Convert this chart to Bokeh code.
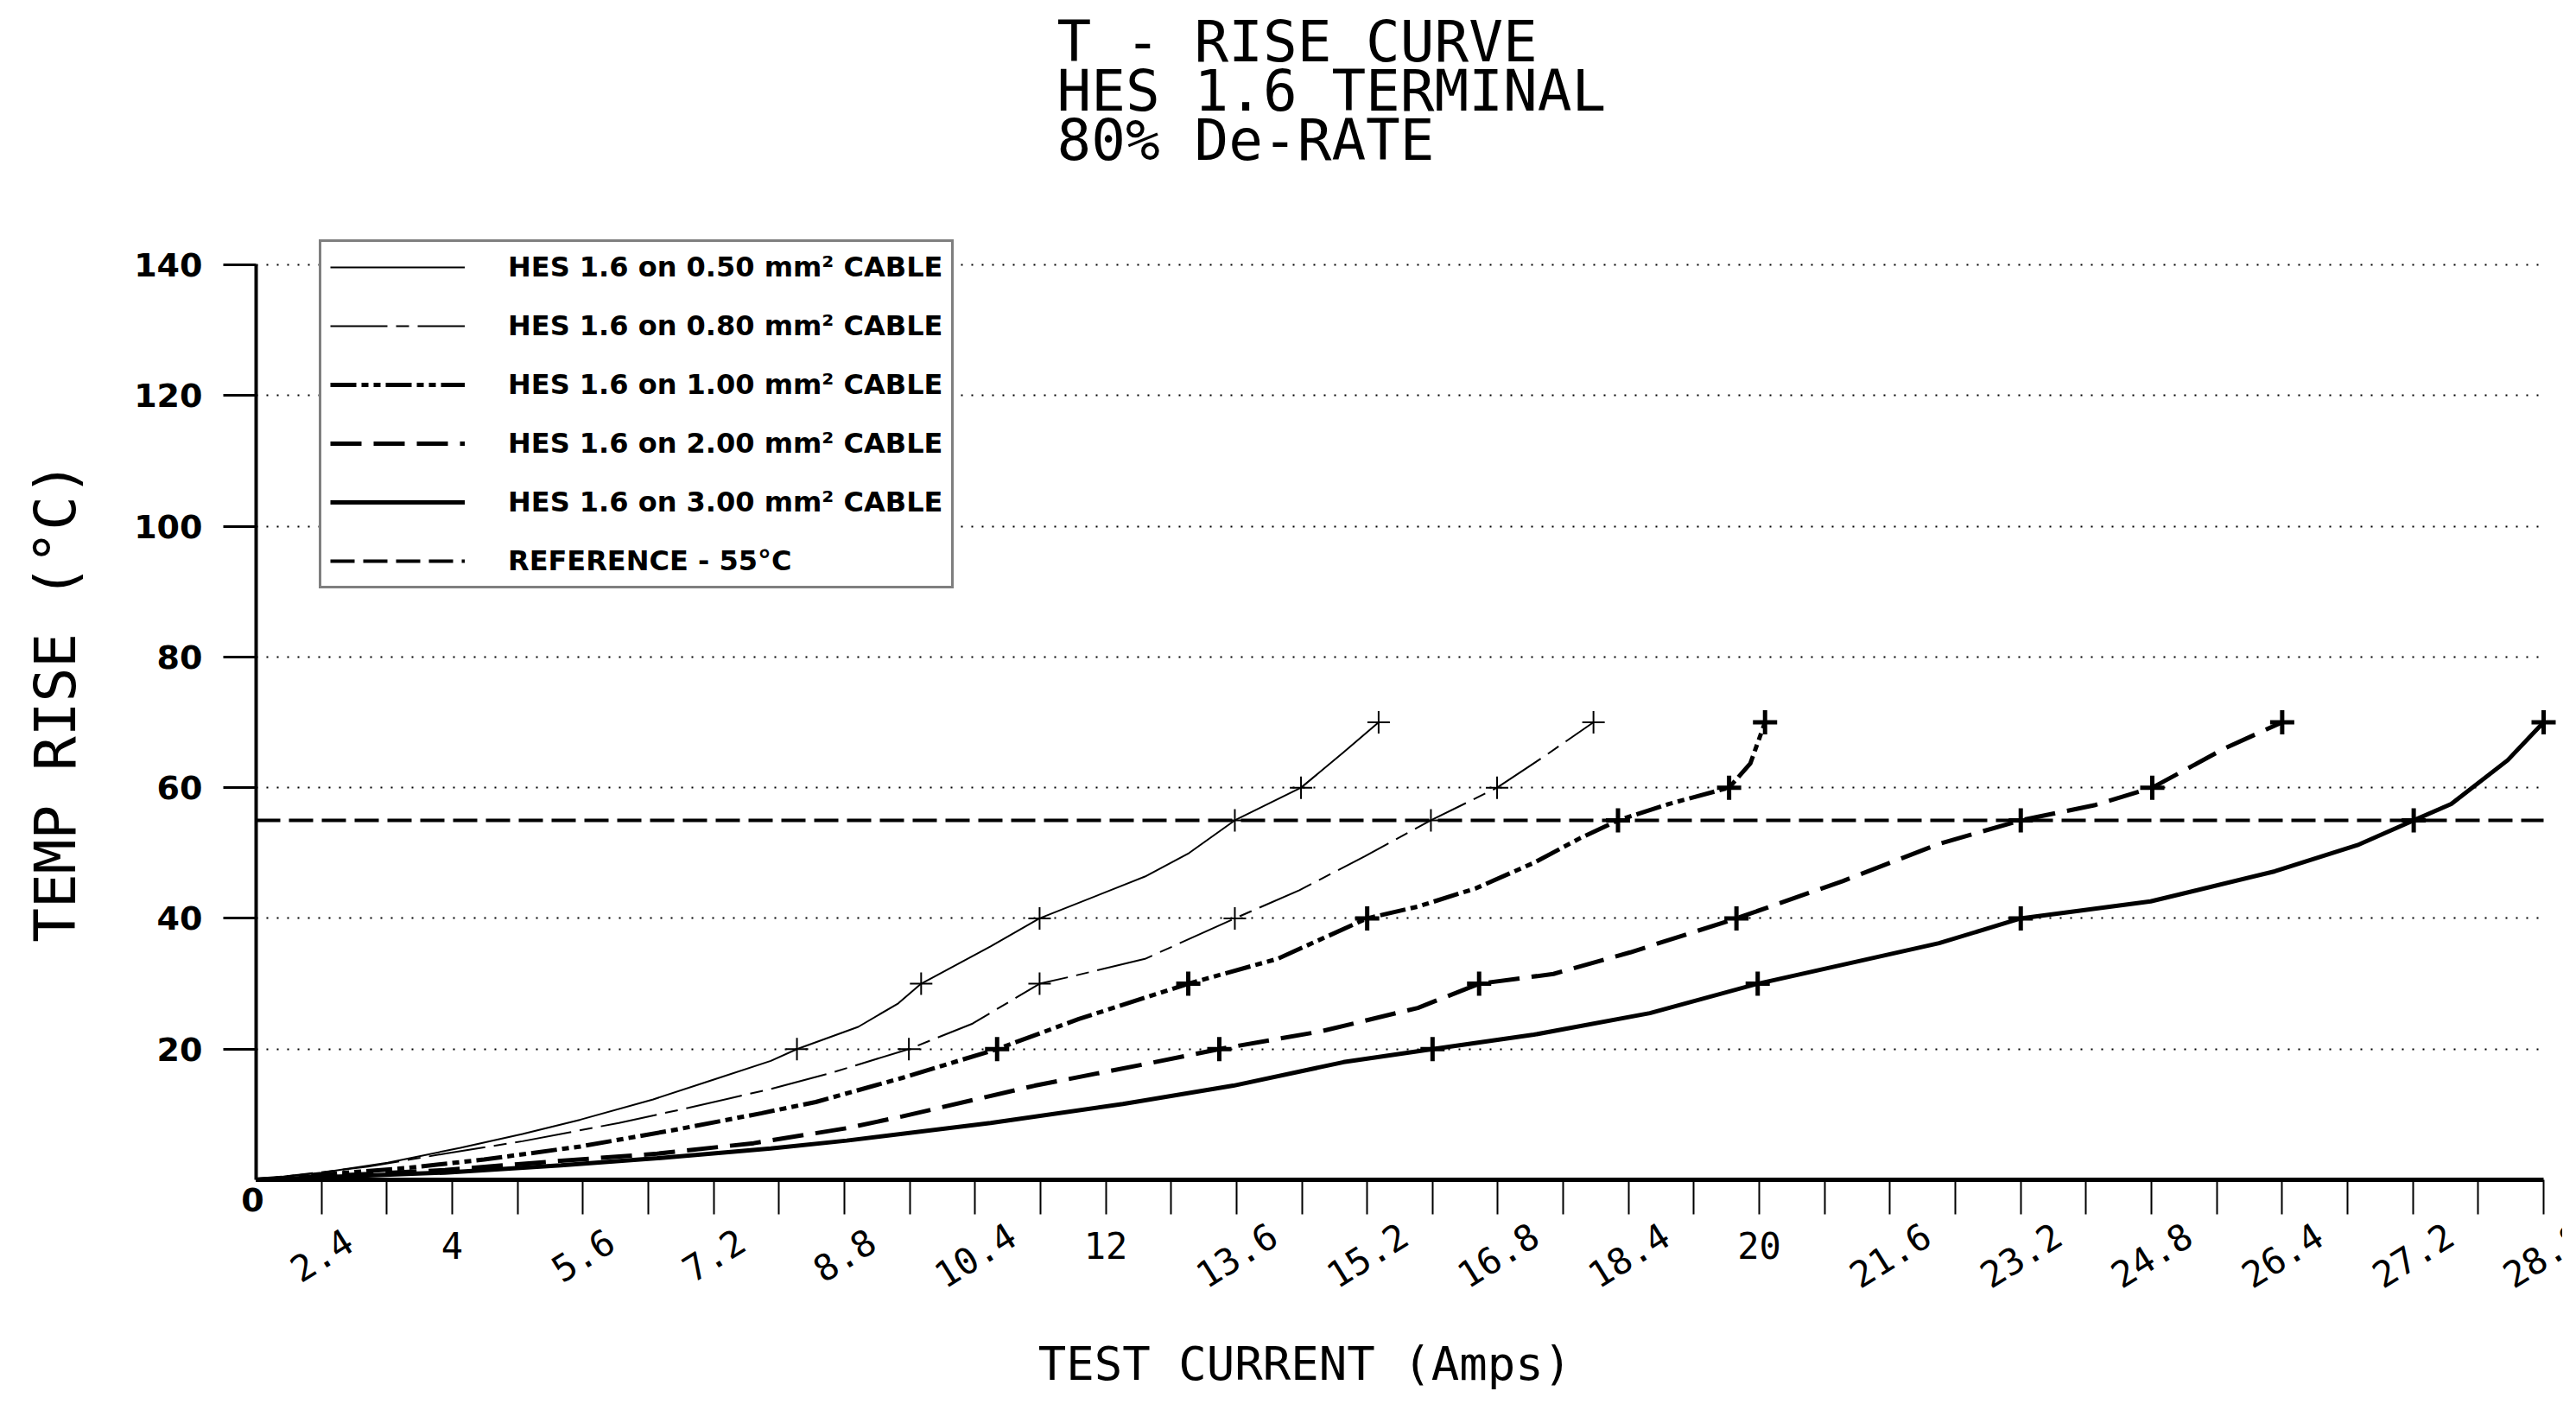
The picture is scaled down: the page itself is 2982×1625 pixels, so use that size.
import math
from bokeh.plotting import figure
from bokeh.models import (ColumnDataSource, Label, LabelSet, Legend, LegendItem,
                          FixedTicker, CustomJSTickFormatter, Range1d)
from bokeh.embed import file_html
from bokeh.resources import INLINE
from bokeh.core.properties import value

# ---------------- data ----------------
TITLE_LINES = ["T - RISE CURVE", "HES 1.6 TERMINAL", "80% De-RATE"]
X_TITLE = "TEST CURRENT (Amps)"
Y_TITLE = "TEMP RISE (°C)"

X_MIN, X_MAX = 1.6, 29.6
Y_MIN, Y_MAX = 0, 140
REF_VALUE = 55

X_TICKS = [2.4, 3.2, 4.0, 4.8, 5.6, 6.4, 7.2, 8.0, 8.8, 9.6, 10.4, 11.2, 12.0,
           12.8, 13.6, 14.4, 15.2, 16.0, 16.8, 17.6, 18.4, 19.2, 20.0, 20.8,
           21.6, 22.4, 23.2, 24.0, 24.8, 25.6, 26.4, 27.2, 28.0, 28.8, 29.6]
X_LABEL_POS = [2.4, 4.0, 5.6, 7.2, 8.8, 10.4, 12.0, 13.6, 15.2, 16.8, 18.4,
               20.0, 21.6, 23.2, 24.8, 26.4, 28.0, 29.6]
X_LABELS = ["2.4", "4", "5.6", "7.2", "8.8", "10.4", "12", "13.6", "15.2",
            "16.8", "18.4", "20", "21.6", "23.2", "24.8", "26.4", "27.2", "28.8"]
Y_TICKS = [20, 40, 60, 80, 100, 120, 140]
ORIGIN_LABEL = "0"

SERIES_NAMES = ["HES 1.6 on 0.50 mm² CABLE", "HES 1.6 on 0.80 mm² CABLE",
                "HES 1.6 on 1.00 mm² CABLE", "HES 1.6 on 2.00 mm² CABLE",
                "HES 1.6 on 3.00 mm² CABLE"]
REF_NAME = "REFERENCE - 55°C"

S050_X = [1.6, 2.4, 3.21, 4.1, 4.86, 5.57, 6.46, 7.17, 7.9, 8.22, 8.97, 9.46,
          9.74, 10.59, 11.19, 12.48, 13.02, 13.58, 14.39, 14.91, 15.34]
S050_Y = [0, 1.1, 2.6, 4.9, 7.0, 9.2, 12.3, 15.2, 18.2, 20, 23.4, 27.0,
          30, 35.7, 40, 46.4, 50.0, 55, 60, 65.4, 70]
S050_MX = [8.22, 9.74, 11.19, 13.58, 14.39, 15.34]
S050_MY = [20, 30, 40, 55, 60, 70]

S080_X = [1.6, 2.97, 3.91, 4.86, 6.04, 6.89, 7.9, 8.65, 9.59, 10.37, 11.19,
          11.61, 12.48, 13.58, 14.37, 15.17, 15.98, 16.79, 17.38, 17.97]
S080_Y = [0, 2.0, 4.0, 5.9, 8.7, 11.0, 13.9, 16.4, 20, 23.9, 30,
          31.2, 33.8, 40, 44.3, 49.5, 55, 60, 64.9, 70]
S080_MX = [9.59, 11.19, 13.58, 15.98, 16.79, 17.97]
S080_MY = [20, 30, 40, 55, 60, 70]

S100_X = [1.6, 3.44, 4.39, 5.57, 6.75, 7.79, 8.45, 9.51, 10.67, 11.67, 13.01,
          14.1, 15.2, 15.82, 16.53, 17.24, 17.81, 18.27, 18.89, 19.63, 19.89, 20.07]
S100_Y = [0, 1.8, 3.1, 5.1, 7.7, 10.2, 11.9, 15.6, 20, 24.6, 30,
          33.8, 40, 41.8, 44.6, 48.5, 52.3, 55, 57.5, 60, 63.7, 70]
S100_MX = [10.67, 13.01, 15.2, 18.27, 19.63, 20.07]
S100_MY = [20, 30, 40, 55, 60, 70]

S200_X = [1.6, 3.91, 5.33, 6.51, 7.69, 8.83, 9.51, 11.13, 12.48, 13.39, 14.63,
          15.82, 16.57, 17.48, 18.42, 19.72, 21.02, 22.2, 23.2, 24.1, 24.81,
          25.71, 26.4]
S200_Y = [0, 1.5, 2.9, 4.0, 5.6, 7.9, 9.7, 14.4, 17.7, 20, 22.7,
          26.3, 30, 31.5, 34.8, 40, 45.7, 51.4, 55, 57.3, 60,
          66.1, 70]
S200_MX = [13.39, 16.57, 19.72, 23.2, 24.81, 26.4]
S200_MY = [20, 30, 40, 55, 60, 70]

S300_X = [1.6, 3.91, 5.33, 6.51, 7.9, 8.83, 10.59, 12.21, 13.56, 14.91, 16.0,
          17.24, 18.66, 19.98, 21.02, 22.2, 23.2, 24.79, 26.31, 27.32, 28.01,
          28.47, 29.16, 29.6]
S300_Y = [0, 1.1, 2.2, 3.3, 4.8, 6.0, 8.7, 11.6, 14.4, 18.0, 20,
          22.2, 25.5, 30, 32.9, 36.2, 40, 42.6, 47.2, 51.2, 55,
          57.5, 64.2, 70]
S300_MX = [16.0, 19.98, 23.2, 28.01, 29.6]
S300_MY = [20, 30, 40, 55, 70]

# ---------------- layout ----------------
# The frame fills the whole canvas; axes are placed at fixed data locations
# so that every text (titles, tick labels) lies inside the frame.
W, H = 2966, 1609
FL, FR, FT, FB = 296, 2944, 306, 1365     # where the axes box sits (px)
KX = (X_MAX - X_MIN) / (FR - FL)
KY = (Y_MAX - Y_MIN) / (FB - FT)


def px2x(px):
    return X_MIN + (px - FL) * KX


def px2y(py):
    return Y_MAX - (py - FT) * KY


p = figure(width=W, height=H, output_backend="svg", toolbar_location=None,
           title_location=None,
           x_range=Range1d(px2x(0), px2x(W)), y_range=Range1d(px2y(H), px2y(0)),
           min_border=0)
p.outline_line_color = None
p.background_fill_color = "white"
p.border_fill_color = "white"

# axes
xa = p.xaxis[0]
xa.fixed_location = Y_MIN
xa.bounds = (X_MIN, X_MAX)
xa.ticker = FixedTicker(ticks=X_TICKS)
xa.formatter = CustomJSTickFormatter(code="return ''")
xa.major_tick_out = 40
xa.major_tick_in = 0
xa.minor_tick_line_color = None
xa.axis_line_width = 5
xa.major_tick_line_width = 2
xa.axis_line_color = "black"
xa.major_tick_line_color = "black"

ya = p.yaxis[0]
ya.fixed_location = X_MIN
ya.bounds = (Y_MIN, Y_MAX)
ya.ticker = FixedTicker(ticks=Y_TICKS)
ya.major_tick_out = 38
ya.major_tick_in = 0
ya.minor_tick_line_color = None
ya.axis_line_width = 4
ya.major_tick_line_width = 3
ya.axis_line_color = "black"
ya.major_tick_line_color = "black"
ya.major_label_standoff = 24
ya.major_label_text_font = "DejaVu Sans"
ya.major_label_text_font_style = "bold"
ya.major_label_text_font_size = "38px"
ya.major_label_text_color = "black"

# grid
p.xgrid.visible = False
p.ygrid.ticker = FixedTicker(ticks=Y_TICKS)
p.ygrid.cross_bounds = (X_MIN, X_MAX)
p.ygrid.grid_line_color = "black"
p.ygrid.grid_line_dash = "2 10"
p.ygrid.grid_line_width = 2

# series
styles = [
    dict(line_width=2, line_dash="solid", msize=26, mwidth=2),
    dict(line_width=2, line_dash="66 10 15 10", msize=26, mwidth=2),
    dict(line_width=5, line_dash="30 6 8 6 8 6", msize=28, mwidth=5),
    dict(line_width=5, line_dash="36 14", msize=28, mwidth=5),
    dict(line_width=5, line_dash="solid", msize=28, mwidth=5),
]
curves = [(S050_X, S050_Y, S050_MX, S050_MY), (S080_X, S080_Y, S080_MX, S080_MY),
          (S100_X, S100_Y, S100_MX, S100_MY), (S200_X, S200_Y, S200_MX, S200_MY),
          (S300_X, S300_Y, S300_MX, S300_MY)]

items = []
for name, (cx, cy, mx, my), st in zip(SERIES_NAMES, curves, styles):
    r = p.line(cx, cy, line_color="black", line_width=st["line_width"],
               line_dash=st["line_dash"])
    p.scatter(mx, my, marker="cross", size=st["msize"], line_color="black",
              line_width=st["mwidth"])
    items.append(LegendItem(label=name, renderers=[r]))

ref = p.line([X_MIN, X_MAX], [REF_VALUE, REF_VALUE], line_color="black",
             line_width=4, line_dash="28 10")
items.append(LegendItem(label=REF_NAME, renderers=[ref]))

# legend box: left edge 369px, bottom edge ~681px from the top of the canvas
legend = Legend(items=items, location=(369, H - 681),
                border_line_color="black", border_line_width=3,
                background_fill_color="white", background_fill_alpha=1.0,
                padding=10, spacing=30, margin=0,
                label_height=34, glyph_height=34, glyph_width=156,
                label_standoff=50,
                label_text_font="DejaVu Sans", label_text_font_style="bold",
                label_text_font_size="32px", label_text_color="black")
p.add_layout(legend)

# x tick labels (integers upright, the others slanted, as in the original)
angles = [0.0 if "." not in t else math.radians(32) for t in X_LABELS]
ys = [px2y(1441) if a == 0 else px2y(1452) for a in angles]
tick_src = ColumnDataSource(dict(x=X_LABEL_POS, y=ys, text=X_LABELS, angle=angles))
p.add_layout(LabelSet(x="x", y="y", text="text", angle="angle", source=tick_src,
                      text_align="center", text_baseline="middle",
                      text_font=value("DejaVu Sans Mono"), text_font_size="42px",
                      text_color="black"))

p.add_layout(Label(x=X_MIN, y=Y_MIN, x_offset=-4, y_offset=-23, text=ORIGIN_LABEL,
                   text_align="center", text_baseline="middle",
                   text_font="DejaVu Sans", text_font_style="bold",
                   text_font_size="38px", text_color="black"))

# titles
for i, line in enumerate(TITLE_LINES):
    p.add_layout(Label(x=px2x(1223), y=px2y(48 + 57 * i), text=line,
                       text_align="left", text_baseline="alphabetic",
                       text_font="DejaVu Sans Mono", text_font_size="66px",
                       text_color="black"))

p.add_layout(Label(x=px2x(1510), y=px2y(1578), text=X_TITLE,
                   text_align="center", text_baseline="middle",
                   text_font="DejaVu Sans Mono", text_font_size="54px",
                   text_color="black"))
p.add_layout(Label(x=px2x(64), y=px2y(812), text=Y_TITLE, angle=math.pi / 2,
                   text_align="center", text_baseline="middle",
                   text_font="DejaVu Sans Mono", text_font_size="66px",
                   text_color="black"))

open("out.html", "w").write(file_html(p, INLINE))
